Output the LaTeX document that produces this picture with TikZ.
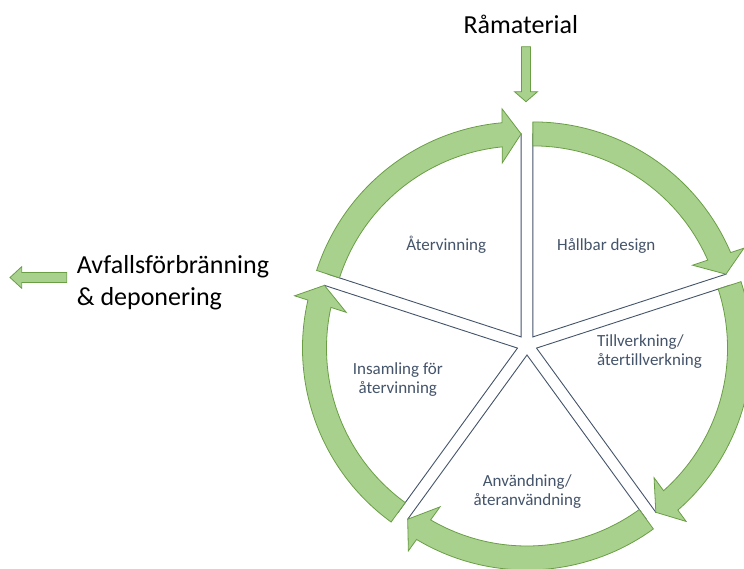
\documentclass[tikz,border=0pt]{standalone}
\usepackage{fontspec}
\setmainfont{Carlito}[Ligatures={NoCommon}]
\usetikzlibrary{calc}
\definecolor{slate}{HTML}{44546A}
\definecolor{gfill}{HTML}{A9D18E}
\definecolor{gline}{HTML}{6A9E45}
\tikzset{
  wedgebox/.style={draw=slate, line width=0.9pt, fill=white, line join=miter},
  bandarrow/.style={draw=gline, line width=0.8pt, fill=gfill, line join=miter},
  inlabel/.style={text=slate, font=\fontsize{17}{18.7}\selectfont, inner sep=0pt, anchor=base},
  outlabel/.style={text=black, font=\fontsize{26}{32}\selectfont, inner sep=0pt},
}
\begin{document}
\begin{tikzpicture}[x=1pt,y=1pt]
\useasboundingbox (0,0) rectangle (744,568);
\coordinate (C) at (527,223);
% wedges
\foreach \th/\nm in {54/hd,-18/tv,-90/av,-162/in,126/at}{
  \coordinate (A\nm) at ($(C)+(\th:10pt)$);
  \draw[wedgebox] (A\nm) -- ($(A\nm)+({\th+36}:203pt)$)
     arc[start angle={\th+36}, end angle={\th-36}, radius=203pt] -- cycle;
}
% curved arrows
\foreach \th/\nm in {54/hd,-18/tv,-90/av,-162/in,126/at}{
  \pgfmathsetmacro{\s}{\th+36}
  \pgfmathsetmacro{\e}{\th-36}
  \draw[bandarrow] ($(A\nm)+(\s:215pt)$)
     arc[start angle=\s, end angle={\e+5.1}, radius=215pt]
     -- ($(A\nm)+({\e+4.8}:229pt)$)
     -- ($(A\nm)+(\e:203pt)$)
     -- ($(A\nm)+({\e+6.2}:175pt)$)
     -- ($(A\nm)+({\e+5.7}:191pt)$)
     arc[start angle={\e+5.7}, end angle=\s, radius=191pt] -- cycle;
}
% labels in the wedges (base = last line)
\node[inlabel] (lat) at (446.3,317.3) {Återvinning};
\node[inlabel] (lhd) at (606.3,317.3) {Hållbar design};
\node[inlabel, anchor=base west, align=left] (ltv) at (597,202.3) {Tillverkning/\\återtillverkning};
\node[inlabel, align=center] (lin) at (397.8,174.7) {Insamling för\\återvinning};
\node[inlabel, align=center] (lav) at (527.3,63) {Användning/\\återanvändning};
% outer labels
\node[outlabel, anchor=base] (raw) at (520.8,534.7) {Råmaterial};
\node[outlabel, anchor=base west, align=left] (waste) at (76.7,262) {Avfallsförbränning\\\& deponering};
% input arrow
\coordinate (dn) at (526,466.3);
\draw[bandarrow] ($(dn)+(-4.5,55)$) -- ($(dn)+(4.5,55)$) -- ($(dn)+(4.5,10)$) -- ($(dn)+(11.5,10)$)
   -- (dn) -- ($(dn)+(-11.5,10)$) -- ($(dn)+(-4.5,10)$) -- cycle;
% output arrow
\coordinate (lt) at (10,290.5);
\draw[bandarrow] ($(lt)+(56.7,5)$) -- ($(lt)+(56.7,-5)$) -- ($(lt)+(11.7,-5)$) -- ($(lt)+(11.7,-10.8)$)
   -- (lt) -- ($(lt)+(11.7,10.8)$) -- ($(lt)+(11.7,5)$) -- cycle;
\end{tikzpicture}
\end{document}
